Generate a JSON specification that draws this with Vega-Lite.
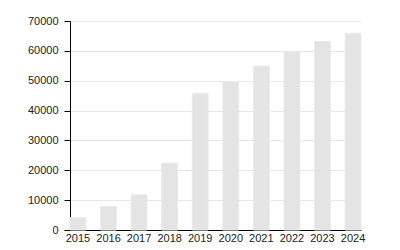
{
  "$schema": "https://vega.github.io/schema/vega-lite/v6.json",
  "width": 291,
  "height": 209,
  "autosize": {"type": "none"},
  "padding": {"left": 70, "top": 21, "right": 39, "bottom": 20},
  "background": "white",
  "config": {"view": {"stroke": null}, "font": "Liberation Sans"},
  "data": {"values": [
    {"year": "2015", "value": 4100},
    {"year": "2016", "value": 7900},
    {"year": "2017", "value": 11800},
    {"year": "2018", "value": 22400},
    {"year": "2019", "value": 45800},
    {"year": "2020", "value": 49700},
    {"year": "2021", "value": 54900},
    {"year": "2022", "value": 59700},
    {"year": "2023", "value": 63100},
    {"year": "2024", "value": 65900}
  ]},
  "mark": {"type": "bar", "color": "#e4e4e4", "stroke": "#ebebeb", "strokeWidth": 1},
  "encoding": {
    "x": {
      "field": "year", "type": "ordinal",
      "scale": {"paddingInner": 0.48, "paddingOuter": 0},
      "axis": {"title": null, "labelAngle": 0, "ticks": false, "domainColor": "#000", "labelColor": "#222", "labelFontSize": 11, "labelPadding": 2, "grid": false}
    },
    "y": {
      "field": "value", "type": "quantitative",
      "scale": {"domain": [0, 70000], "nice": false},
      "axis": {"title": null, "values": [0, 10000, 20000, 30000, 40000, 50000, 60000, 70000], "format": "d", "domainColor": "#000", "tickColor": "#000", "tickSize": 6, "labelColor": "#222", "labelFontSize": 11, "labelPadding": 6, "gridColor": "#e8e8e8"}
    }
  }
}
